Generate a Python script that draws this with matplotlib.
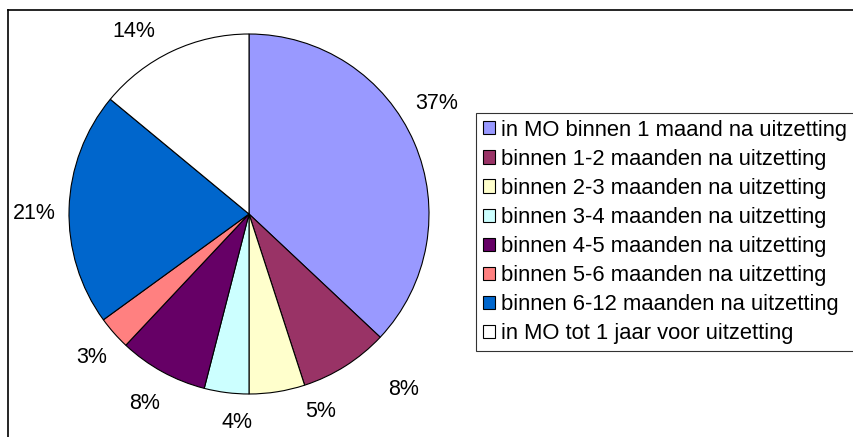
import numpy as np
import matplotlib.pyplot as plt
from matplotlib.lines import Line2D

plt.rcParams['font.family'] = ['Liberation Sans', 'DejaVu Sans']

labels = [
    'in MO binnen 1 maand na uitzetting',
    'binnen 1-2 maanden na uitzetting',
    'binnen 2-3 maanden na uitzetting',
    'binnen 3-4 maanden na uitzetting',
    'binnen 4-5 maanden na uitzetting',
    'binnen 5-6 maanden na uitzetting',
    'binnen 6-12 maanden na uitzetting',
    'in MO tot 1 jaar voor uitzetting',
]
shares = [37, 8, 5, 4, 8, 3, 21, 14]
colors = ['#9999FF', '#993366', '#FFFFCC', '#CCFFFF',
          '#660066', '#FF8080', '#0066CC', '#FFFFFF']

# Excel-style label placement: angle shift (deg) and distance per label
label_shift = [7, 9, 11, 4, 0, 1, 1.7, 7]
label_dist = [1.21, 1.30, 1.17, 1.16, 1.20, 1.18, 1.19, 1.20]

fig = plt.figure(figsize=(8.54, 4.37), dpi=100)

# pie centred at (249, 214) px with radius 180 px
ax = fig.add_axes([24 / 854, -2 / 437, 450 / 854, 450 / 437])
wedges, _ = ax.pie(
    shares, colors=colors, startangle=90, counterclock=False,
    wedgeprops=dict(edgecolor='black', linewidth=0.8))
ax.set_xlim(-1.25, 1.25)
ax.set_ylim(-1.25, 1.25)
ax.set_aspect('equal')
ax.axis('off')

for w, v, sh, d in zip(wedges, shares, label_shift, label_dist):
    ang = np.deg2rad((w.theta1 + w.theta2) / 2 + sh)
    ax.text(d * np.cos(ang), d * np.sin(ang), f'{v}%', ha='center',
            va='center', fontsize=15.5, clip_on=False)

leg = fig.legend(wedges, labels, loc='upper left',
                 bbox_to_anchor=(476 / 854, 1 - 113 / 437),
                 fontsize=15.8, frameon=True, fancybox=False,
                 edgecolor='black', handlelength=0.55, handleheight=0.55,
                 handletextpad=0.3, labelspacing=0.37, borderpad=0.3,
                 borderaxespad=0)
leg.get_frame().set_linewidth(0.8)

# chart area border (top and left visible)
fig.add_artist(Line2D([8 / 854, 1.0], [1 - 10 / 437, 1 - 10 / 437],
                      color='black', linewidth=1.2))
fig.add_artist(Line2D([8 / 854, 8 / 854], [0.0, 1 - 10 / 437],
                      color='black', linewidth=1.2))

fig.savefig('out.png', dpi=100, facecolor='white')
